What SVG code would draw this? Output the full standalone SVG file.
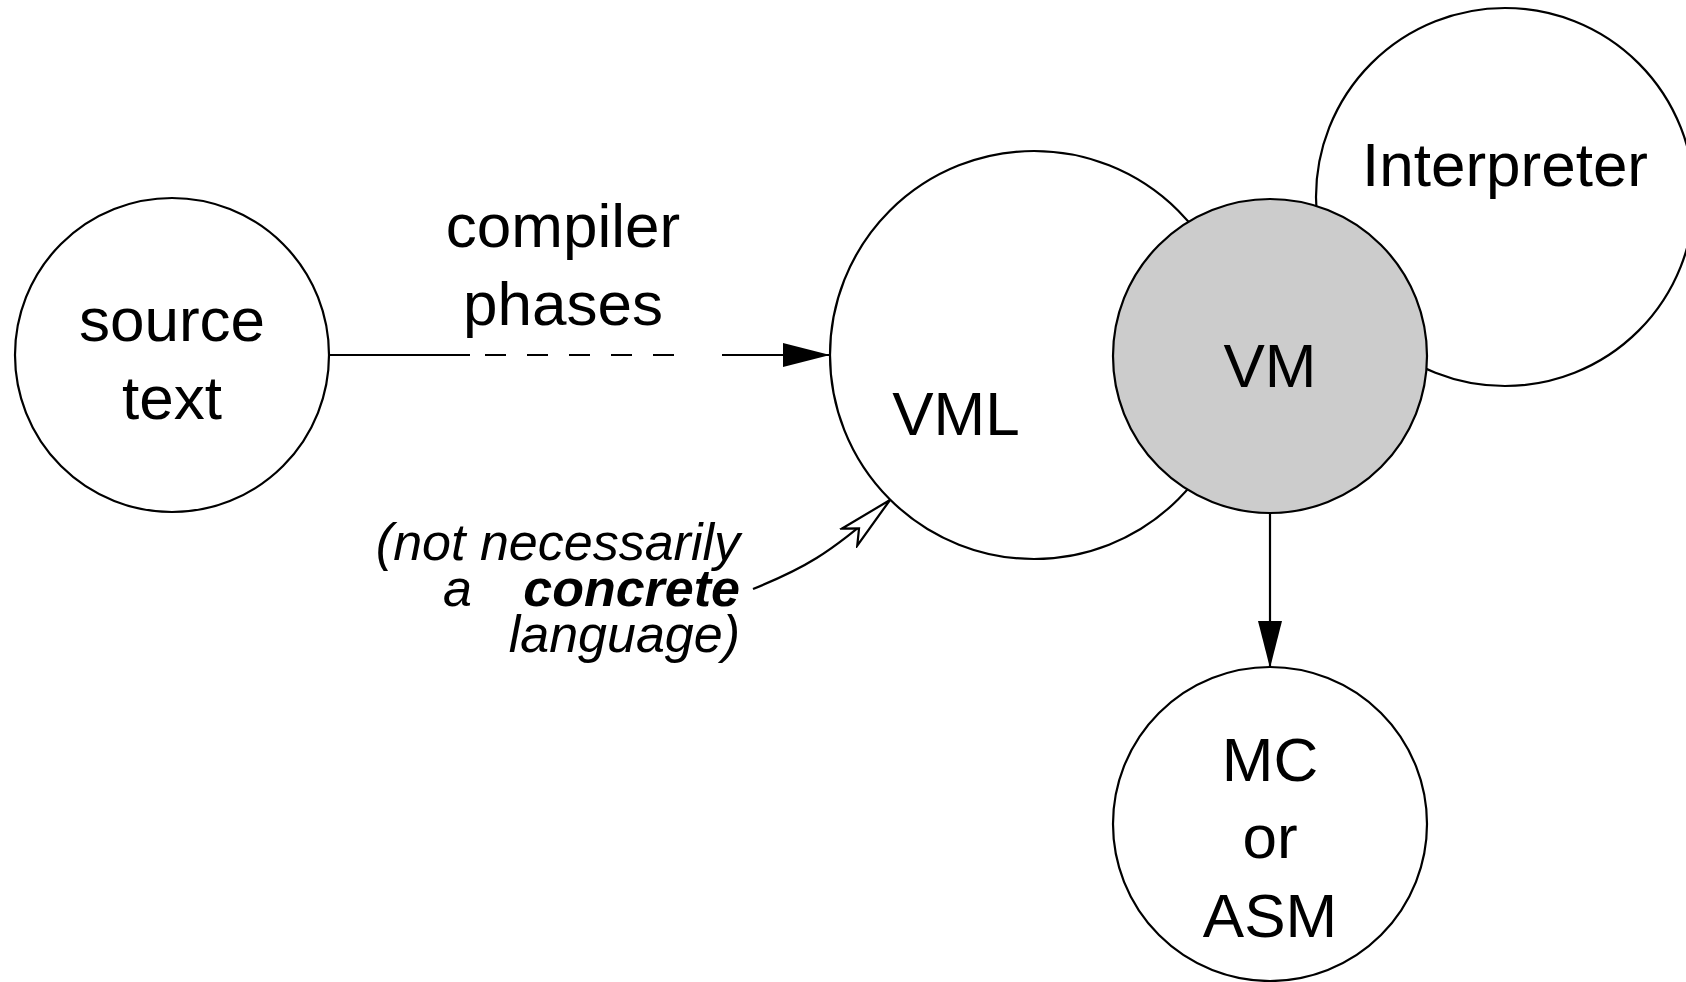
<svg xmlns="http://www.w3.org/2000/svg" width="1686" height="982" viewBox="0 0 1686 982">
<style>
.node{fill:#fff;stroke:#000;stroke-width:2.2}
.vm{fill:#cccccc;stroke:#000;stroke-width:2.2}
.lbl{font-family:"Liberation Sans",Arial,sans-serif;font-size:62px;text-anchor:middle;fill:#000}
.note{font-family:"Liberation Sans",Arial,sans-serif;font-size:52px;font-style:italic;fill:#000}
.edge{fill:none;stroke:#000;stroke-width:2.2}
</style>
<defs>
<marker id="solid" markerUnits="userSpaceOnUse" markerWidth="50" markerHeight="26" refX="47" refY="12" orient="auto">
<path d="M0,0 L47,12 L0,24 Z" fill="#000"/>
</marker>
<marker id="hollow" markerUnits="userSpaceOnUse" markerWidth="62" markerHeight="30" refX="57" refY="14" orient="auto">
<path d="M57,14 L2,2.5 L15,14 L2,25.5 Z" fill="#fff" stroke="#000" stroke-width="2.2" stroke-linejoin="miter"/>
</marker>
</defs>
<rect width="1686" height="982" fill="#fff"/>
<g id="node-source">
<circle class="node" cx="172" cy="355" r="157"/>
<text class="lbl" x="172" y="341">source</text>
<text class="lbl" x="172" y="419">text</text>
</g>
<g id="node-vml">
<circle class="node" cx="1034" cy="355" r="204"/>
<text class="lbl" x="956" y="435">VML</text>
</g>
<g id="node-interpreter">
<circle class="node" cx="1505" cy="197" r="189"/>
<text class="lbl" x="1505" y="186">Interpreter</text>
</g>
<g id="node-vm">
<circle class="vm" cx="1270" cy="356" r="157"/>
<text class="lbl" x="1270" y="387">VM</text>
</g>
<g id="node-mc">
<circle class="node" cx="1270" cy="824" r="157"/>
<text class="lbl" x="1270" y="781">MC</text>
<text class="lbl" x="1270" y="858">or</text>
<text class="lbl" x="1270" y="937">ASM</text>
</g>
<g id="connectors">
<path class="edge" d="M328,355 H470"/>
<path class="edge" d="M485,355 H674" stroke-dasharray="21 21"/>
<path class="edge" d="M722,355 H830" marker-end="url(#solid)"/>
<path class="edge" d="M1270,513 V668" marker-end="url(#solid)"/>
<path class="edge" d="M753,589 C800,570 830,555 890,500" marker-end="url(#hollow)"/>
</g>
<g id="labels">
<text class="lbl" x="563" y="247">compiler</text>
<text class="lbl" x="563" y="325">phases</text>
<text class="note" x="740" y="560" text-anchor="end">(not necessarily</text>
<text class="note" x="443" y="606">a</text>
<text class="note" x="740" y="606" text-anchor="end" font-weight="bold">concrete</text>
<text class="note" x="740" y="652" text-anchor="end">language)</text>
</g>
</svg>
